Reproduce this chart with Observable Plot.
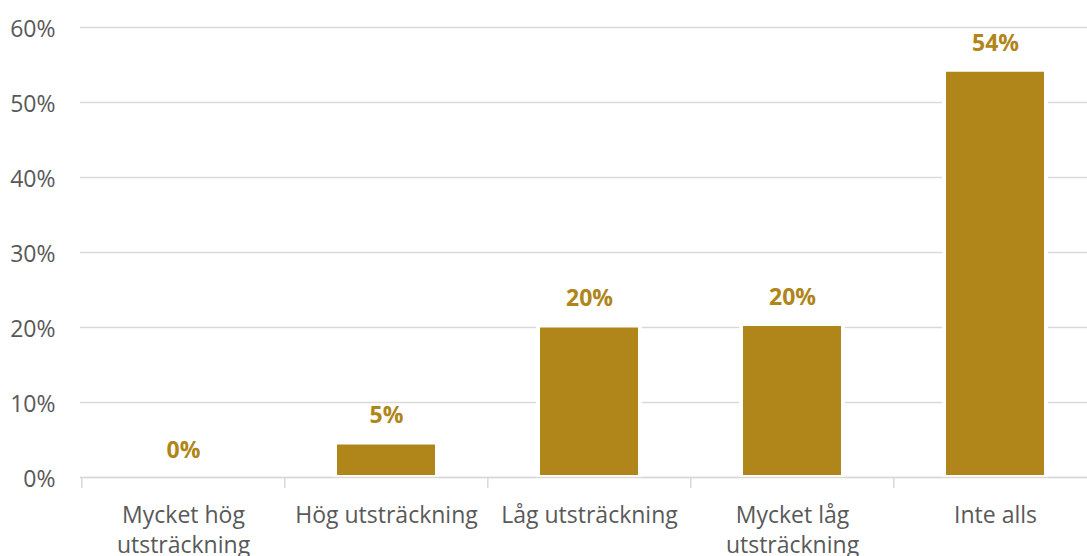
<!DOCTYPE html>
<html>
<head>
<meta charset="utf-8">
<script src="https://cdn.jsdelivr.net/npm/d3@7"></script>
<script src="https://cdn.jsdelivr.net/npm/@observablehq/plot@0.6"></script>
<style>
  html, body { margin: 0; padding: 0; background: #fff; overflow: hidden; }
  svg { font-family: "Open Sans", sans-serif; }
</style>
</head>
<body>
<div id="chart"></div>
<script>
const categories = ["Mycket hög utsträckning", "Hög utsträckning", "Låg utsträckning", "Mycket låg utsträckning", "Inte alls"];
const tickLabels = ["Mycket hög\nutsträckning", "Hög utsträckning", "Låg utsträckning", "Mycket låg\nutsträckning", "Inte alls"];
const values = [0, 4.6, 20.2, 20.4, 54.3];
const yTicks = [0, 10, 20, 30, 40, 50, 60];

const data = categories.map((c, i) => ({category: c, value: values[i]}));
const labelOf = new Map(categories.map((c, i) => [c, tickLabels[i]]));

const W = 1087, H = 556;
const xRange = [80, 1097];
const step = (xRange[1] - xRange[0]) / categories.length;
const barColor = "#B0851A";
const textColor = "#595959";
const fs = 23;

const chart = Plot.plot({
  width: W,
  height: H,
  marginTop: 27,
  marginBottom: 79,
  marginLeft: 80,
  marginRight: 0,
  style: {fontFamily: "'Open Sans', sans-serif", overflow: "hidden"},
  x: {domain: categories, range: xRange, paddingInner: 0.5, paddingOuter: 0.25, align: 0.5, label: null},
  y: {domain: [0, 60], ticks: yTicks, label: null},
  marks: [
    Plot.gridY(yTicks, {stroke: "#d9d9d9", strokeOpacity: 1, strokeWidth: 1.5}),
    Plot.barY(data, {x: "category", y: "value", fill: barColor, stroke: "#fff", strokeWidth: 4}),
    Plot.ruleY([0], {stroke: "#d9d9d9", strokeWidth: 1.5}),
    Plot.ruleX(categories, {x: d => d, y1: 0, y2: -1.45, dx: -step / 2, stroke: "#d9d9d9", strokeWidth: 1.5}),
    Plot.text(data, {x: "category", y: "value", text: d => Math.round(d.value) + "%", dy: -27, fill: "#B0851A", fontWeight: "bold", fontSize: fs}),
    Plot.axisY(yTicks, {tickSize: 0, tickPadding: 25, tickFormat: d => d + "%", fontSize: fs, fill: textColor, dy: 2, label: null}),
    Plot.axisX({tickSize: 0, tickPadding: 24, tickFormat: d => labelOf.get(d), fontSize: fs, lineHeight: 1.3, fill: textColor, label: null})
  ]
});
document.getElementById("chart").appendChild(chart);
</script>
</body>
</html>
